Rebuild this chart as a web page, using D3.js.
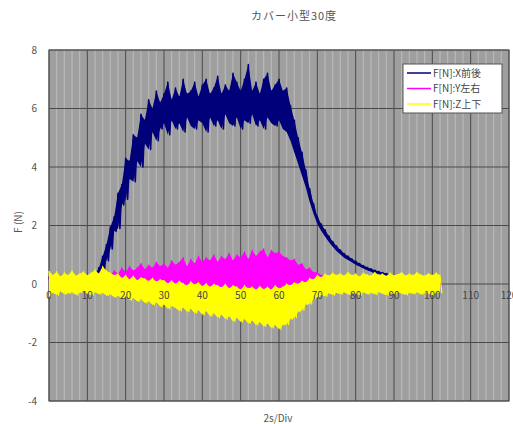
<!DOCTYPE html>
<html><head><meta charset="utf-8">
<script src="https://cdn.jsdelivr.net/npm/d3@7/dist/d3.min.js"></script>
<style>body{margin:0;background:#fff}svg{display:block}</style>
</head><body>
<script>
const title = "カバー小型30度";
const xLabel = "2s/Div";
const yLabel = "F (N)";
const seriesNames = ["F[N]:X前後", "F[N]:Y左右", "F[N]:Z上下"];
const seriesColors = ["#00007a", "#ff00ff", "#ffff00"];
const xTicks = [0,10,20,30,40,50,60,70,80,90,100,110,120];
const yTicks = [-4,-2,0,2,4,6,8];

// time in divisions (index = division), envelope of the noisy signals (max, min per step)
const xHi = [0.25,0.2,0.28,0.22,0.3,0.2,0.27,0.25,0.3,0.22,
  0.3,0.28,0.32,0.55,0.95,1.35,1.95,2.3,3.1,3.4,
  4.3,4.2,5.1,5.0,5.8,5.6,6.3,6.0,6.6,6.2,
  6.5,6.9,6.3,6.7,6.4,7.0,6.5,6.6,6.9,6.4,
  6.8,7.0,6.5,6.7,7.1,6.5,6.8,6.6,7.2,6.9,
  6.6,7.0,7.5,6.6,6.9,6.5,7.0,7.2,6.6,6.8,
  7.0,6.6,6.7,6.1,5.6,5.0,4.5,3.9,3.25,2.75,
  2.3,2.05,1.85,1.64,1.45,1.3,1.16,1.04,0.95,0.86,
  0.78,0.7,0.63,0.57,0.52,0.47,0.43,0.39,0.36,0.33,
  0.3];
const xLo = [-0.05,-0.1,-0.05,-0.08,-0.02,-0.1,-0.05,-0.06,0.0,-0.05,
  0.0,0.02,0.05,0.2,0.5,0.8,1.2,1.8,1.9,2.7,
  2.9,3.6,3.5,4.2,4.0,4.8,4.6,5.2,4.9,5.3,
  5.5,5.1,5.6,5.3,5.5,5.2,5.7,5.4,5.3,5.6,
  5.5,5.2,5.7,5.4,5.6,5.3,5.8,5.5,5.4,5.7,
  5.3,5.6,5.5,5.8,5.4,5.6,5.3,5.7,5.5,5.4,
  5.6,5.3,5.2,4.9,4.5,4.1,3.7,3.3,2.8,2.4,
  2.05,1.82,1.62,1.44,1.27,1.13,1.01,0.9,0.82,0.74,
  0.66,0.6,0.53,0.47,0.42,0.38,0.34,0.3,0.27,0.25,
  0.22];

const yHi = [0.2,0.15,0.22,0.18,0.2,0.15,0.22,0.2,0.18,0.22,
  0.2,0.25,0.2,0.25,0.22,0.28,0.3,0.45,0.35,0.55,
  0.4,0.6,0.45,0.55,0.7,0.5,0.65,0.55,0.75,0.6,
  0.7,0.55,0.8,0.65,0.75,0.9,0.6,0.85,0.7,0.95,
  0.75,0.9,0.8,1.0,0.75,0.95,0.85,1.05,0.8,1.0,
  0.9,1.1,0.85,1.15,0.95,1.1,1.2,0.9,1.15,1.05,
  1.1,0.95,0.9,0.8,0.85,0.65,0.7,0.5,0.55,0.4,
  0.4,0.3,0.32,0.25,0.28,0.2,0.22,0.18,0.22,0.2,
  0.18,0.2,0.22,0.18,0.2,0.2,0.22,0.18,0.2,0.22,
  0.2,0.18,0.2,0.22,0.2,0.18,0.2,0.22,0.2,0.18,
  0.2,0.2,0.18];
const yLo = [-0.15,-0.1,-0.15,-0.12,-0.1,-0.15,-0.12,-0.1,-0.15,-0.1,
  -0.12,-0.1,-0.15,-0.1,-0.12,-0.1,-0.1,-0.05,0.0,-0.05,
  0.0,-0.05,0.0,-0.05,-0.05,0.0,-0.05,0.0,-0.05,0.0,
  -0.05,-0.05,-0.05,-0.1,-0.05,-0.1,-0.05,-0.1,-0.1,-0.1,
  -0.1,-0.15,-0.1,-0.15,-0.15,-0.15,-0.2,-0.15,-0.2,-0.2,
  -0.2,-0.2,-0.25,-0.2,-0.25,-0.2,-0.25,-0.2,-0.25,-0.2,
  -0.2,-0.2,-0.15,-0.15,-0.1,-0.1,-0.05,-0.05,0.0,0.0,
  0.0,0.0,-0.02,0.0,-0.02,-0.05,-0.1,-0.08,-0.1,-0.12,
  -0.1,-0.08,-0.1,-0.12,-0.1,-0.1,-0.08,-0.1,-0.12,-0.1,
  -0.08,-0.1,-0.1,-0.12,-0.1,-0.08,-0.1,-0.12,-0.1,-0.1,
  -0.08,-0.1,-0.1];

const zHi = [0.45,0.3,0.42,0.25,0.38,0.3,0.45,0.28,0.35,0.42,
  0.3,0.38,0.48,0.35,0.6,0.45,0.38,0.3,0.35,0.2,
  0.3,0.15,0.28,0.12,0.22,0.18,0.1,0.2,0.08,0.15,
  0.12,0.02,0.12,0.0,0.1,0.02,-0.05,0.08,-0.02,0.05,
  -0.08,0.02,-0.1,0.0,-0.05,-0.12,0.0,-0.15,-0.05,-0.1,
  -0.2,-0.05,-0.15,-0.1,-0.2,-0.08,-0.18,-0.1,-0.2,-0.05,
  -0.15,-0.1,0.0,-0.05,0.05,0.0,0.1,0.05,0.2,0.15,
  0.3,0.22,0.35,0.28,0.38,0.3,0.36,0.28,0.4,0.3,
  0.35,0.25,0.38,0.32,0.28,0.4,0.3,0.35,0.27,0.38,
  0.3,0.33,0.4,0.28,0.35,0.3,0.4,0.32,0.28,0.36,
  0.3,0.38,0.3];
const zLo = [-0.45,-0.3,-0.38,-0.25,-0.35,-0.32,-0.28,-0.38,-0.3,-0.25,
  -0.33,-0.38,-0.28,-0.35,-0.3,-0.4,-0.35,-0.45,-0.4,-0.5,
  -0.42,-0.55,-0.48,-0.6,-0.52,-0.65,-0.58,-0.72,-0.62,-0.78,
  -0.7,-0.85,-0.75,-0.82,-0.92,-0.8,-0.95,-0.85,-1.0,-0.9,
  -1.05,-0.92,-1.1,-1.0,-1.15,-1.05,-1.2,-1.1,-1.28,-1.15,
  -1.3,-1.2,-1.35,-1.25,-1.4,-1.3,-1.45,-1.35,-1.5,-1.4,
  -1.55,-1.4,-1.38,-1.2,-1.15,-0.95,-0.9,-0.7,-0.68,-0.5,
  -0.45,-0.38,-0.42,-0.32,-0.38,-0.3,-0.35,-0.28,-0.36,-0.3,
  -0.33,-0.38,-0.28,-0.35,-0.3,-0.36,-0.27,-0.34,-0.38,-0.3,
  -0.35,-0.28,-0.33,-0.37,-0.3,-0.34,-0.28,-0.36,-0.3,-0.33,
  -0.38,-0.3,-0.32];

const W = 513, H = 424;
const M = {left: 49, top: 50, right: 509, bottom: 401};
const svg = d3.select("body").append("svg").attr("width", W).attr("height", H);
const font = "'Noto Sans CJK JP', 'DejaVu Sans', sans-serif";
const x = d3.scaleLinear().domain([0,120]).range([M.left, M.right]);
const y = d3.scaleLinear().domain([-4,8]).range([M.bottom, M.top]);

// plot background
svg.append("rect").attr("x", M.left).attr("y", M.top)
  .attr("width", M.right - M.left).attr("height", M.bottom - M.top).attr("fill", "#9f9f9f");

// minor vertical gridlines
const minor = d3.range(0, 121, 2).filter(v => v % 10 !== 0);
svg.append("g").selectAll("line").data(minor).join("line")
  .attr("x1", d => x(d)).attr("x2", d => x(d)).attr("y1", M.top).attr("y2", M.bottom)
  .attr("stroke", "#b9b9b9").attr("stroke-width", 1.2);
// major gridlines
svg.append("g").selectAll("line").data(xTicks).join("line")
  .attr("x1", d => x(d)).attr("x2", d => x(d)).attr("y1", M.top).attr("y2", M.bottom)
  .attr("stroke", "#4a4a4a").attr("stroke-width", 1);
svg.append("g").selectAll("line").data(yTicks).join("line")
  .attr("x1", M.left).attr("x2", M.right).attr("y1", d => y(d)).attr("y2", d => y(d))
  .attr("stroke", "#4a4a4a").attr("stroke-width", 1);
svg.append("rect").attr("x", M.left).attr("y", M.top)
  .attr("width", M.right - M.left).attr("height", M.bottom - M.top)
  .attr("fill", "none").attr("stroke", "#555").attr("stroke-width", 1);

// series as dense min/max traces
function trace(hi, lo) {
  const pts = [];
  hi.forEach((h, i) => { pts.push([i, h]); pts.push([i + 0.5, lo[i]]); });
  return d3.line().x(d => x(d[0])).y(d => y(d[1]))(pts);
}
const band = (hi, lo) => d3.area().x((d, i) => x(i)).y0((d, i) => y(lo[i])).y1(d => y(d))(hi);
const series = [[xHi, xLo, 1.6], [yHi, yLo, 1.2], [zHi, zLo, 1.2]];
series.forEach((s, k) => {
  svg.append("path").attr("d", band(s[0], s[1])).attr("fill", seriesColors[k]);
  svg.append("path").attr("d", trace(s[0], s[1]))
    .attr("fill", "none").attr("stroke", seriesColors[k]).attr("stroke-width", s[2])
    .attr("stroke-linejoin", "round");
});

// tick labels
svg.append("g").selectAll("text").data(yTicks).join("text")
  .attr("x", 37).attr("y", d => y(d)).attr("dy", "0.35em").attr("text-anchor", "end")
  .attr("font-family", font).attr("font-size", 10).attr("fill", "#555").text(d => d);
svg.append("g").selectAll("text").data(xTicks).join("text")
  .attr("x", d => x(d)).attr("y", y(0) + 15).attr("text-anchor", "middle")
  .attr("font-family", font).attr("font-size", 10).attr("fill", "#444").text(d => d);

// titles
svg.append("text").attr("x", 294).attr("y", 20).attr("text-anchor", "middle")
  .attr("font-family", font).attr("font-size", 11).attr("letter-spacing", 1).attr("fill", "#555").text(title);
svg.append("text").attr("x", 278).attr("y", 422).attr("text-anchor", "middle")
  .attr("font-family", font).attr("font-size", 10).attr("fill", "#555").text(xLabel);
svg.append("text").attr("transform", "translate(22,222) rotate(-90)").attr("text-anchor", "middle")
  .attr("font-family", font).attr("font-size", 10).attr("fill", "#555").text(yLabel);

// legend
const lg = svg.append("g");
lg.append("rect").attr("x", 403).attr("y", 64).attr("width", 99).attr("height", 49)
  .attr("fill", "#fff").attr("stroke", "#555").attr("stroke-width", 1);
seriesNames.forEach((n, i) => {
  const yy = 73 + i * 15.5;
  lg.append("line").attr("x1", 407).attr("x2", 431).attr("y1", yy).attr("y2", yy)
    .attr("stroke", seriesColors[i]).attr("stroke-width", 1.5);
  lg.append("text").attr("x", 433).attr("y", yy).attr("dy", "0.36em")
    .attr("font-family", font).attr("font-size", 10).attr("fill", "#444").text(n);
});
</script>
</body></html>
